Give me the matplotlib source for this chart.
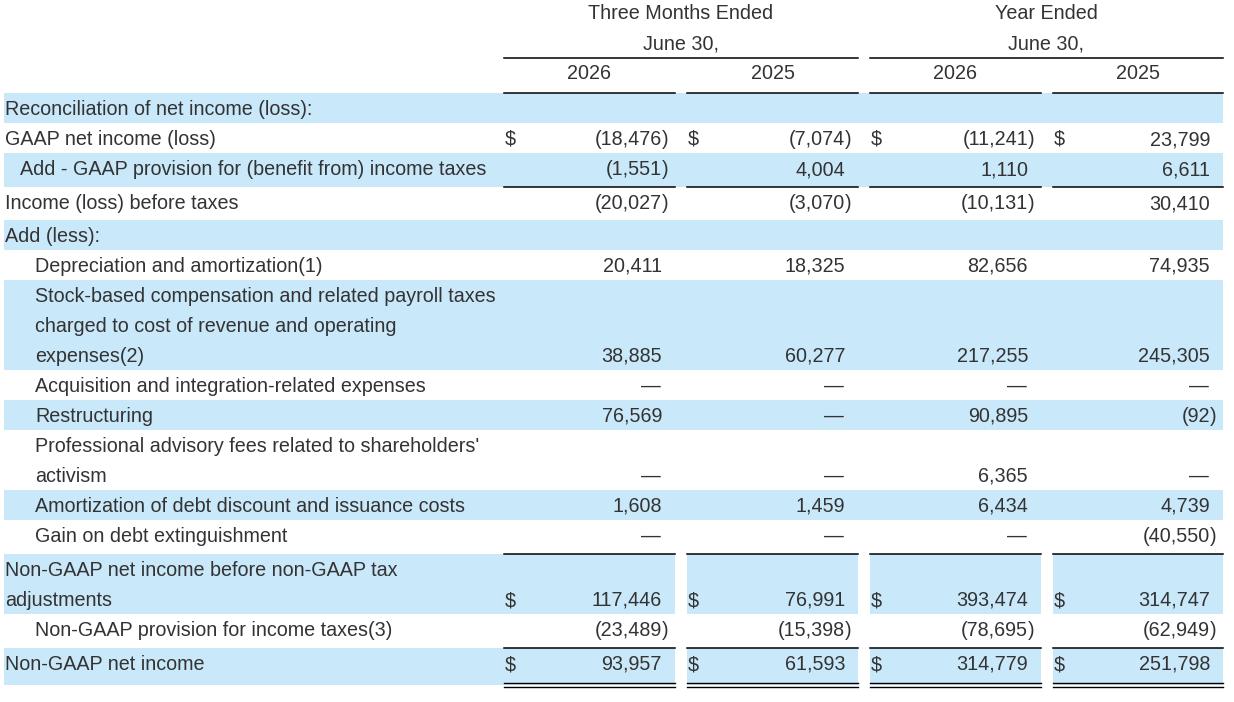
import matplotlib
matplotlib.use("Agg")
import matplotlib.pyplot as plt

# ---- data ----
labels = [
    "Reconciliation of net income (loss):",
    "GAAP net income (loss)",
    "Add - GAAP provision for (benefit from) income taxes",
    "Income (loss) before taxes",
    "Add (less):",
    "Depreciation and amortization(1)",
    "Stock-based compensation and related payroll taxes\ncharged to cost of revenue and operating\nexpenses(2)",
    "Acquisition and integration-related expenses",
    "Restructuring",
    "Professional advisory fees related to shareholders'\nactivism",
    "Amortization of debt discount and issuance costs",
    "Gain on debt extinguishment",
    "Non-GAAP net income before non-GAAP tax\nadjustments",
    "Non-GAAP provision for income taxes(3)",
    "Non-GAAP net income",
]
indent = [0, 0, 1, 0, 0, 2, 2, 2, 2, 2, 2, 2, 0, 2, 0]

group_titles = ["Three Months Ended", "Year Ended"]
group_sub = "June 30,"
years = ["2026", "2025", "2026", "2025"]

# None = blank cell, 0 = dash
q_2026 = [None, -18476, -1551, -20027, None, 20411, 38885, 0, 76569, 0, 1608, 0, 117446, -23489, 93957]
q_2025 = [None, -7074, 4004, -3070, None, 18325, 60277, 0, 0, 0, 1459, 0, 76991, -15398, 61593]
y_2026 = [None, -11241, 1110, -10131, None, 82656, 217255, 0, 90895, 6365, 6434, 0, 393474, -78695, 314779]
y_2025 = [None, 23799, 6611, 30410, None, 74935, 245305, 0, -92, 0, 4739, -40550, 314747, -62949, 251798]
columns = [q_2026, q_2025, y_2026, y_2025]

dollar_rows = [1, 12, 14]
shaded_rows = [0, 2, 4, 6, 8, 10, 12, 14]
underline_rows = [2, 11, 13]
double_rows = [14]

# ---- layout ----
W, H = 1234, 702
shade = "#c9e8fa"
ink = "#333333"
fs = 14.2
col_l = [504, 687, 870, 1053]
col_r = [675, 858, 1041, 1223]

plt.rcParams["font.family"] = ["Liberation Sans", "DejaVu Sans"]
fig = plt.figure(figsize=(W / 100, H / 100), dpi=100)
ax = fig.add_axes([0, 0, 1, 1])
ax.set_xlim(0, W)
ax.set_ylim(H, 0)
ax.axis("off")


def put(x, yc, s, ha="left"):
    ax.text(x, yc + 7, s, ha=ha, va="baseline", fontsize=fs, color=ink)


def fmt(v):
    if v == 0:
        return "\u2014"
    return f"{abs(v):,}"


# header
for g in range(2):
    xl, xr = col_l[2 * g], col_r[2 * g + 1]
    put((xl + xr) / 2, 12, group_titles[g], ha="center")
    put((xl + xr) / 2, 42, group_sub, ha="center")
    ax.plot([xl, xr], [58, 58], color="black", lw=1.1)
for c in range(4):
    put((col_l[c] + col_r[c]) / 2, 72, years[c], ha="center")
    ax.plot([col_l[c], col_r[c]], [93, 93], color="black", lw=1.1)

top = 93
for i, lab in enumerate(labels):
    nl = lab.count("\n") + 1
    h = 30 * nl
    if i in underline_rows or i in double_rows:
        h += 4
    if (i - 1) in underline_rows and nl == 1:
        h += 3
    if i in shaded_rows:
        if i in dollar_rows:
            ax.add_patch(plt.Rectangle((4, top), col_r[0] - 4, h, color=shade, lw=0))
            for c in range(1, 4):
                ax.add_patch(plt.Rectangle((col_l[c], top), col_r[c] - col_l[c], h, color=shade, lw=0))
        else:
            ax.add_patch(plt.Rectangle((4, top), col_r[3] - 4, h, color=shade, lw=0))
    for k, line in enumerate(lab.split("\n")):
        put(5 + 15 * indent[i], top + 15 + 30 * k, line)
    yc = top + 15 + 30 * (nl - 1)
    for c in range(4):
        v = columns[c][i]
        if i in dollar_rows:
            put(col_l[c] + 1, yc, "$")
        if v is None:
            continue
        xr = col_r[c] - 13
        if v < 0:
            put(xr, yc, "(" + fmt(v), ha="right")
            put(xr, yc, ")")
        else:
            put(xr - (1 if v == 0 else 0), yc, fmt(v), ha="right")
    bottom = top + h
    if i in underline_rows:
        for c in range(4):
            ax.plot([col_l[c], col_r[c]], [bottom, bottom], color="black", lw=1.1)
    if i in double_rows:
        for c in range(4):
            ax.plot([col_l[c], col_r[c]], [bottom - 2, bottom - 2], color="black", lw=1.0)
            ax.plot([col_l[c], col_r[c]], [bottom + 1.5, bottom + 1.5], color="black", lw=1.0)
    top = bottom

fig.savefig("out.png", dpi=100)
